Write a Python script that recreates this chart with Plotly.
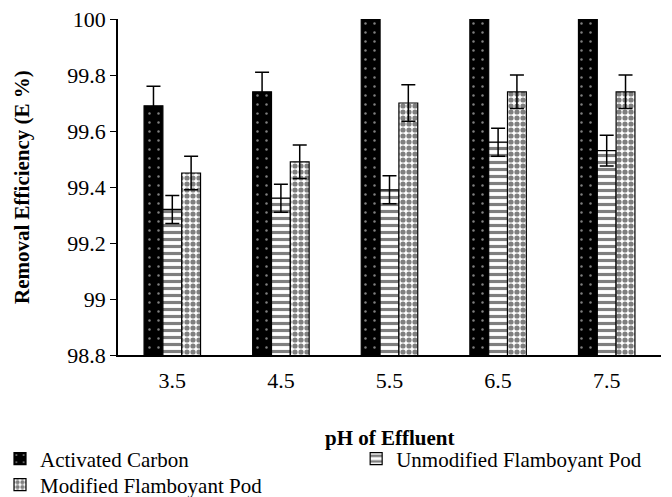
import plotly.graph_objects as go

categories = ["3.5", "4.5", "5.5", "6.5", "7.5"]
activated_carbon = [99.69, 99.74, 100.0, 100.0, 100.0]
activated_carbon_err = [0.07, 0.07, 0.07, 0.07, 0.07]
unmodified_pod = [99.32, 99.36, 99.39, 99.56, 99.53]
unmodified_pod_err = [0.05, 0.05, 0.05, 0.05, 0.055]
modified_pod = [99.45, 99.49, 99.70, 99.74, 99.74]
modified_pod_err = [0.06, 0.06, 0.065, 0.06, 0.06]

ff = "Liberation Serif"
fs = 21
fs_tick = 22

def err(a):
    return dict(type="data", array=a, visible=True, color="black", thickness=1.5, width=7)

fig = go.Figure()
fig.add_trace(go.Bar(
    name="Activated Carbon", x=categories, y=activated_carbon,
    error_y=err(activated_carbon_err), legend="legend",
    marker=dict(color="black", line=dict(color="black", width=1.2),
                pattern=dict(shape=".", fgcolor="white", bgcolor="black", size=9, solidity=0.06)),
))
fig.add_trace(go.Bar(
    name="Unmodified Flamboyant Pod", x=categories, y=unmodified_pod,
    error_y=err(unmodified_pod_err), legend="legend2",
    marker=dict(color="white", line=dict(color="black", width=1.2),
                pattern=dict(shape="-", fgcolor="black", bgcolor="white", size=7, solidity=0.45)),
))
fig.add_trace(go.Bar(
    name="Modified Flamboyant Pod", x=categories, y=modified_pod,
    error_y=err(modified_pod_err), legend="legend3",
    marker=dict(color="white", line=dict(color="black", width=1.2),
                pattern=dict(shape=".", fgcolor="black", bgcolor="white", size=6, solidity=0.6)),
))

leg_common = dict(xref="container", yref="container", xanchor="left", yanchor="middle",
                  font=dict(family=ff, size=fs), itemwidth=30, bgcolor="rgba(0,0,0,0)")

fig.update_layout(
    width=672, height=497,
    margin=dict(l=118, r=11, t=19, b=142, autoexpand=False),
    plot_bgcolor="white", paper_bgcolor="white",
    barmode="group", bargap=0.48, bargroupgap=0,
    font=dict(family=ff, size=fs, color="black"),
    xaxis=dict(
        showline=True, linecolor="black", linewidth=1.5,
        ticks="outside", ticklen=5, tickcolor="rgba(0,0,0,0)", showgrid=False,
        tickfont=dict(family=ff, size=fs_tick),
    ),
    yaxis=dict(
        range=[98.8, 100.0], dtick=0.2, tick0=98.8,
        showline=True, linecolor="black", linewidth=1.5,
        ticks="outside", ticklen=6, tickcolor="black", tickwidth=1,
        showgrid=False, zeroline=False,
        tickfont=dict(family=ff, size=fs_tick),
    ),
    legend=dict(x=0.0, y=(497 - 459) / 497, **leg_common),
    legend2=dict(x=0.53, y=(497 - 459) / 497, **leg_common),
    legend3=dict(x=0.0, y=(497 - 485) / 497, **leg_common),
    showlegend=True,
    annotations=[
        dict(text="<b>pH of Effluent</b>", xref="paper", yref="paper",
             x=0.5, y=(355 - 438) / 336, xanchor="center", yanchor="middle",
             showarrow=False, font=dict(family=ff, size=fs)),
        dict(text="<b>Removal Efficiency (E %)</b>", xref="paper", yref="paper",
             x=(22 - 118) / 543, y=0.5, xanchor="center", yanchor="middle",
             textangle=-90, showarrow=False, font=dict(family=ff, size=fs)),
    ],
)

fig.write_html("out.html")
